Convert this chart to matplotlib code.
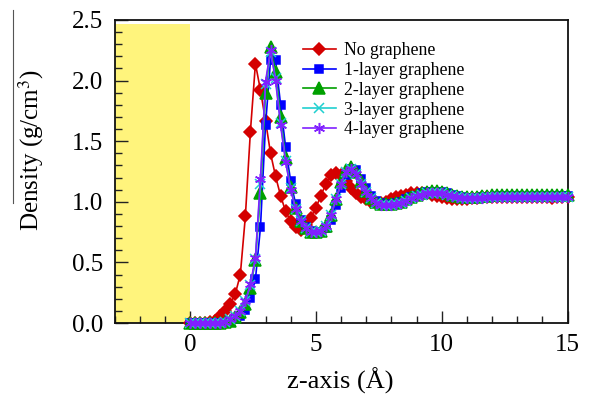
import numpy as np
import matplotlib
matplotlib.use("Agg")
import matplotlib.pyplot as plt
from matplotlib.lines import Line2D
from matplotlib.ticker import MultipleLocator, FormatStrFormatter

plt.rcParams['font.family'] = ['Liberation Serif', 'DejaVu Serif']
plt.rcParams['mathtext.fontset'] = 'stix'

# distance from the interface (Å), sampled every 0.2 Å
z = np.round(np.arange(0, 15.0001, 0.2), 1)

no_graphene = [
    0.00, 0.00, 0.00, 0.00, 0.01,
    0.02, 0.06, 0.10, 0.16, 0.24,
    0.40, 0.88, 1.58, 2.14, 1.92,
    1.67, 1.40, 1.21, 1.05, 0.92,
    0.84, 0.79, 0.77, 0.81, 0.87,
    0.95, 1.05, 1.15, 1.22, 1.24,
    1.22, 1.17, 1.11, 1.07, 1.04,
    1.02, 1.00, 0.99, 0.99, 1.00,
    1.02, 1.04, 1.05, 1.06, 1.07,
    1.07, 1.07, 1.07, 1.06, 1.05,
    1.04, 1.03, 1.02, 1.02, 1.02,
    1.02, 1.03, 1.03, 1.04, 1.04,
    1.04, 1.04, 1.04, 1.04, 1.04,
    1.04, 1.04, 1.04, 1.04, 1.04,
    1.04, 1.04, 1.03, 1.04, 1.04, 1.04,
]

layer1 = [
    0.00, 0.00, 0.00, 0.00, 0.00,
    0.00, 0.00, 0.00, 0.01, 0.03,
    0.06, 0.11, 0.21, 0.36, 0.79,
    1.63, 2.17, 2.17, 1.80, 1.45,
    1.17, 0.98, 0.85, 0.79, 0.76,
    0.75, 0.75, 0.78, 0.85, 0.97,
    1.11, 1.22, 1.27, 1.26, 1.19,
    1.11, 1.05, 1.01, 0.99, 0.98,
    0.98, 0.99, 1.00, 1.02, 1.04,
    1.05, 1.07, 1.08, 1.08, 1.08,
    1.08, 1.07, 1.06, 1.05, 1.04,
    1.03, 1.03, 1.03, 1.04, 1.04,
    1.04, 1.05, 1.05, 1.05, 1.05,
    1.05, 1.05, 1.04, 1.05, 1.05,
    1.05, 1.05, 1.05, 1.05, 1.05, 1.05,
]

layer2 = [
    0.00, 0.00, 0.00, 0.00, 0.00,
    0.00, 0.00, 0.01, 0.02, 0.05,
    0.09, 0.16, 0.29, 0.52, 1.07,
    1.90, 2.28, 2.07, 1.70, 1.36,
    1.12, 0.95, 0.84, 0.78, 0.75,
    0.75, 0.76, 0.80, 0.89, 1.02,
    1.16, 1.26, 1.29, 1.25, 1.17,
    1.09, 1.03, 1.00, 0.98, 0.98,
    0.98, 0.99, 1.00, 1.02, 1.04,
    1.06, 1.07, 1.08, 1.09, 1.09,
    1.08, 1.07, 1.06, 1.05, 1.04,
    1.04, 1.04, 1.04, 1.05, 1.05,
    1.06, 1.06, 1.06, 1.06, 1.06,
    1.06, 1.06, 1.06, 1.06, 1.06,
    1.06, 1.06, 1.06, 1.06, 1.06, 1.06,
]

layer3 = [
    0.00, 0.00, 0.00, 0.00, 0.00,
    0.00, 0.00, 0.01, 0.03, 0.06,
    0.10, 0.18, 0.31, 0.53, 1.15,
    1.97, 2.24, 2.02, 1.65, 1.34,
    1.11, 0.94, 0.84, 0.78, 0.75,
    0.75, 0.76, 0.80, 0.89, 1.02,
    1.15, 1.25, 1.27, 1.23, 1.15,
    1.08, 1.03, 0.99, 0.97, 0.97,
    0.97, 0.98, 0.99, 1.01, 1.03,
    1.05, 1.06, 1.07, 1.07, 1.07,
    1.07, 1.06, 1.05, 1.04, 1.03,
    1.03, 1.03, 1.03, 1.03, 1.04,
    1.04, 1.04, 1.04, 1.04, 1.04,
    1.04, 1.04, 1.04, 1.04, 1.04,
    1.04, 1.04, 1.04, 1.04, 1.04, 1.04,
]

layer4 = [
    0.00, 0.00, 0.00, 0.00, 0.00,
    0.00, 0.00, 0.01, 0.03, 0.06,
    0.10, 0.18, 0.32, 0.54, 1.19,
    1.99, 2.25, 2.00, 1.63, 1.33,
    1.10, 0.94, 0.84, 0.78, 0.75,
    0.75, 0.76, 0.80, 0.89, 1.02,
    1.15, 1.25, 1.27, 1.23, 1.15,
    1.08, 1.03, 0.99, 0.97, 0.97,
    0.97, 0.98, 0.99, 1.01, 1.03,
    1.05, 1.06, 1.07, 1.07, 1.07,
    1.07, 1.06, 1.05, 1.04, 1.03,
    1.03, 1.03, 1.03, 1.03, 1.04,
    1.04, 1.04, 1.04, 1.04, 1.04,
    1.04, 1.04, 1.04, 1.04, 1.04,
    1.04, 1.04, 1.04, 1.04, 1.04, 1.04,
]

labels = ["No graphene", "1-layer graphene", "2-layer graphene",
          "3-layer graphene", "4-layer graphene"]
series = [no_graphene, layer1, layer2, layer3, layer4]
colors = ["#d40000", "#0000ff", "#00a000", "#20d0d0", "#8020ff"]
markers = ["D", "s", "^", "x", (6, 2, 0)]
sizes = [6.4, 6.4, 8.0, 7.5, 8.0]

fig = plt.figure(figsize=(5.90, 3.99), dpi=100)
W, H = 590, 399
x0, x1, y0, y1 = 114.5, 567.5, 20, 323
ax = fig.add_axes([x0 / W, 1 - y1 / H, (x1 - x0) / W, (y1 - y0) / H])

# graphene slab region
ax.axvspan(-3, 0, ymin=0, ymax=2.47 / 2.5, color="#fff47c", lw=0, zorder=0)

for vals, lab, c, m, ms in zip(series, labels, colors, markers, sizes):
    ax.plot(z, vals, color=c, lw=1.2, marker=m, ms=ms, mfc=c, mec=c,
            mew=1.1, label=lab, clip_on=False, zorder=3)

ax.set_xlim(-3, 15)
ax.set_ylim(0, 2.5)
ax.set_xticks([0, 5, 10, 15])
ax.xaxis.set_minor_locator(MultipleLocator(1))
ax.yaxis.set_major_locator(MultipleLocator(0.5))
ax.yaxis.set_minor_locator(MultipleLocator(0.1))
ax.yaxis.set_major_formatter(FormatStrFormatter("%.1f"))
ax.tick_params(which="both", direction="in", top=False, right=False,
               labelsize=18, width=1.0, color="#222222", pad=8)
ax.tick_params(which="major", length=9)
ax.tick_params(which="minor", length=5)
for s in ax.spines.values():
    s.set_linewidth(1.3)
    s.set_color("#111111")

leg = ax.legend(loc="upper left",
                bbox_to_anchor=((303 - x0) / (x1 - x0), (y1 - 42) / (y1 - y0)),
                frameon=False, fontsize=12.8, handlelength=1.85, handletextpad=0.45,
                labelspacing=0.16, borderpad=0, borderaxespad=0)

fig.text(340 / W, 1 - 381 / H, "z-axis (Å)", ha="center", va="center", fontsize=19)
fig.text(31 / W, 1 - 150 / H, r"Density (g/cm$^{3}$)", rotation=90,
         ha="center", va="center", fontsize=18)
fig.add_artist(Line2D([13 / W, 13 / W], [1 - 10 / H, 1 - 203 / H],
                      transform=fig.transFigure, color="#555555", lw=0.8))

fig.savefig("out.png", dpi=100)
